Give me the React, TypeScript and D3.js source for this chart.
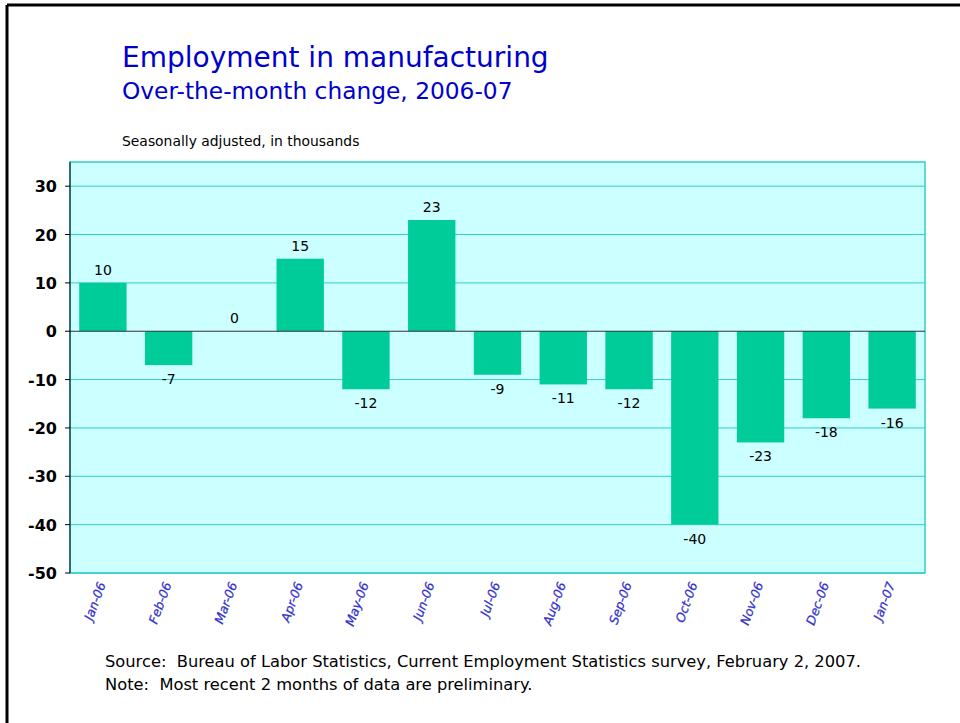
import { scaleLinear, scaleBand } from "d3";

const months = ["Jan-06", "Feb-06", "Mar-06", "Apr-06", "May-06", "Jun-06", "Jul-06", "Aug-06", "Sep-06", "Oct-06", "Nov-06", "Dec-06", "Jan-07"];
const changes = [10, -7, 0, 15, -12, 23, -9, -11, -12, -40, -23, -18, -16];
const yTicks = [30, 20, 10, 0, -10, -20, -30, -40, -50];

const width = 960;
const height = 723;
const plot = { left: 70, top: 162, right: 925, bottom: 573 };
const font = "Tahoma, 'DejaVu Sans', sans-serif";

export default function App() {
  const x = scaleBand().domain(months).range([plot.left, plot.right]).paddingInner(0.28).paddingOuter(0.14);
  const y = scaleLinear().domain([-50, 35]).range([plot.bottom, plot.top]);

  return (
    <svg width={width} height={height} style={{ position: "absolute", left: 0, top: 0 }} fontFamily={font}>
      <rect x={0} y={0} width={width} height={height} fill="#fff" />
      {/* frame */}
      <line x1={7} y1={5} x2={width} y2={5} stroke="#000" strokeWidth={3} />
      <line x1={7} y1={5} x2={7} y2={height} stroke="#000" strokeWidth={3} />

      <text x={122} y={67} fontSize={28} fill="#0000cc">Employment in manufacturing</text>
      <text x={122} y={99} fontSize={23.3} fill="#0000cc">Over-the-month change, 2006-07</text>
      <text x={122} y={146} fontSize={13.9} fill="#000">Seasonally adjusted, in thousands</text>

      <rect x={plot.left} y={plot.top} width={plot.right - plot.left} height={plot.bottom - plot.top} fill="#ccffff" stroke="#33cccc" strokeWidth={1.5} />
      {yTicks.filter(t => t !== 0).map(t => (
        <line key={t} x1={plot.left} x2={plot.right} y1={y(t)} y2={y(t)} stroke="#33cccc" strokeWidth={1} />
      ))}

      {changes.map((v, i) => (
        <rect key={months[i]} x={x(months[i])} width={x.bandwidth()}
          y={y(Math.max(0, v))} height={Math.abs(y(v) - y(0))} fill="#00cc99" />
      ))}
      <line x1={plot.left} x2={plot.right} y1={y(0)} y2={y(0)} stroke="#333" strokeWidth={1} />

      {changes.map((v, i) => (
        <text key={months[i]} x={(x(months[i]) ?? 0) + x.bandwidth() / 2}
          y={v >= 0 ? y(v) - 8 : y(v) + 19} textAnchor="middle" fontSize={14} fill="#000">{v}</text>
      ))}

      {/* y axis */}
      <line x1={plot.left} x2={plot.left} y1={plot.top} y2={plot.bottom} stroke="#000" strokeWidth={1} />
      {yTicks.map(t => (
        <g key={t}>
          <line x1={plot.left - 5} x2={plot.left} y1={y(t)} y2={y(t)} stroke="#000" />
          <text x={57} y={y(t) + 6} textAnchor="end" fontSize={16} fontWeight="bold" fill="#000">{t}</text>
        </g>
      ))}

      {/* x labels */}
      {months.map(m => {
        const cx = (x(m) ?? 0) + x.bandwidth() / 2 + 3;
        return (
          <text key={m} transform={`translate(${cx},${plot.bottom + 11}) rotate(-70)`} textAnchor="end"
            fontSize={12.5} fontStyle="italic" fill="#3333cc" stroke="#3333cc" strokeWidth={0.25}>{m}</text>
        );
      })}

      <text x={105} y={667} fontSize={16.3} fill="#000" xmlSpace="preserve">Source:  Bureau of Labor Statistics, Current Employment Statistics survey, February 2, 2007.</text>
      <text x={105} y={690} fontSize={16.3} fill="#000" xmlSpace="preserve">Note:  Most recent 2 months of data are preliminary.</text>
    </svg>
  );
}
